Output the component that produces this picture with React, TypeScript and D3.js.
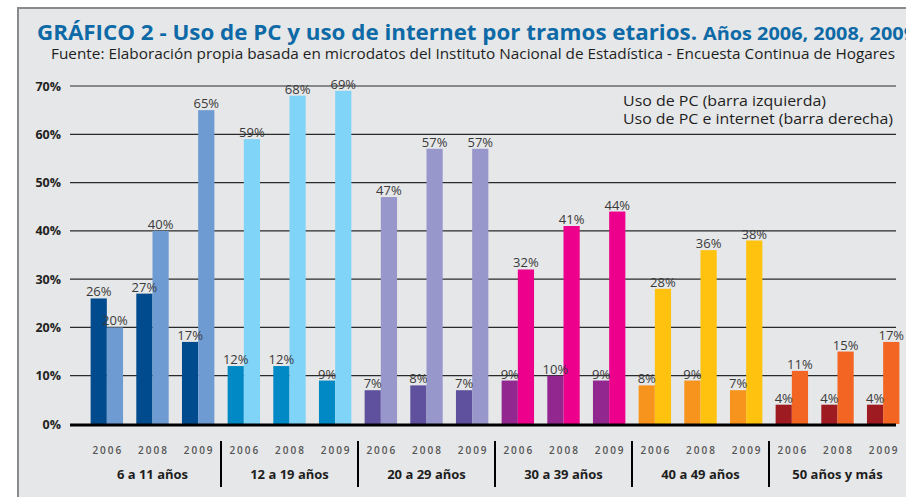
import React from 'react';
import * as d3 from 'd3';

const categories = ['6 a 11 años', '12 a 19 años', '20 a 29 años', '30 a 39 años', '40 a 49 años', '50 años y más'];
const years = ['2006', '2008', '2009'];
// Uso de PC (barra izquierda)
const usoPC = [
  [26, 27, 17],
  [12, 12, 9],
  [7, 8, 7],
  [9, 10, 9],
  [8, 9, 7],
  [4, 4, 4],
];
// Uso de PC e internet (barra derecha)
const usoPCInternet = [
  [20, 40, 65],
  [59, 68, 69],
  [47, 57, 57],
  [32, 41, 44],
  [28, 36, 38],
  [11, 15, 17],
];
const yTicks = [0, 10, 20, 30, 40, 50, 60, 70];
const darkColors = ['#004b8d', '#0089c4', '#5f519e', '#92278f', '#f7941d', '#9d1b21'];
const lightColors = ['#6f9bd3', '#7fd4f7', '#9897cb', '#ec008c', '#ffc20e', '#f26522'];
const title = 'GRÁFICO 2 - Uso de PC y uso de internet por tramos etarios.';
const titleYears = 'Años 2006, 2008, 2009';
const subtitle = 'Fuente: Elaboración propia basada en microdatos del Instituto Nacional de Estadística - Encuesta Continua de Hogares';
const legendLines = ['Uso de PC (barra izquierda)', 'Uso de PC e internet (barra derecha)'];

const W = 906;
const H = 497;
const FONT = "'Open Sans', 'DejaVu Sans', sans-serif";

export default function App() {
  const rows = categories.flatMap((c, gi) =>
    years.map((yr, yi) => ({ key: `${gi}-${yi}`, gi, yi, year: yr, pc: usoPC[gi][yi], net: usoPCInternet[gi][yi] }))
  );
  const x = d3.scaleBand<string>().domain(rows.map((r) => r.key)).range([84, 906]).padding(0);
  const step = x.step();
  const pairW = 32.4;
  const inner = d3.scaleBand<string>().domain(['pc', 'net']).range([0, pairW]).padding(0);
  const y = d3.scaleLinear().domain([0, 70]).range([424, 86]);
  const plotLeft = 70;
  const plotRight = 896;

  return (
    <svg width={W} height={H} style={{ position: 'absolute', left: 0, top: 0, fontFamily: FONT }}>
      <rect x={0} y={0} width={W} height={H} fill="#ffffff" />
      <rect x={18} y={8} width={W + 20} height={H + 20} fill="#e6e7e8" stroke="#8a8a8a" strokeWidth={2} />

      <text x={37} y={40} fontSize={21} fontWeight={700} fill="#0d6aa6" textLength={660} lengthAdjust="spacingAndGlyphs">
        {title}
      </text>
      <text x={703} y={40} fontSize={17.5} fontWeight={700} fill="#0d6aa6" textLength={212} lengthAdjust="spacingAndGlyphs">
        {titleYears}
      </text>
      <text x={51} y={59} fontSize={14} fill="#1e1e1e" textLength={844} lengthAdjust="spacingAndGlyphs">
        {subtitle}
      </text>

      {/* gridlines */}
      {yTicks.filter((t) => t > 0).map((t) => (
        <line key={t} x1={plotLeft} x2={plotRight} y1={y(t)} y2={y(t)} stroke="#2a2a2a" strokeWidth={1.2} />
      ))}
      {yTicks.map((t) => (
        <text key={'l' + t} x={61} y={y(t) + 4.5} fontSize={12.5} fontWeight={700} fill="#222" textAnchor="end">
          {t}%
        </text>
      ))}

      {/* legend */}
      {legendLines.map((l, i) => (
        <text key={l} x={623} y={106 + i * 17.5} fontSize={14} fill="#1e1e1e" textLength={i === 0 ? 203 : 270} lengthAdjust="spacingAndGlyphs">
          {l}
        </text>
      ))}

      {/* bars */}
      {rows.map((r) => {
        const cx = (x(r.key) as number) + step / 2;
        const x0 = cx - pairW / 2;
        return (
          <g key={r.key}>
            <rect x={x0 + (inner('pc') as number)} y={y(r.pc)} width={inner.bandwidth()} height={y(0) - y(r.pc)} fill={darkColors[r.gi]} />
            <rect x={x0 + (inner('net') as number)} y={y(r.net)} width={inner.bandwidth()} height={y(0) - y(r.net)} fill={lightColors[r.gi]} />
            <text x={x0 + (inner('pc') as number) + inner.bandwidth() / 2} y={y(r.pc) - 2} fontSize={13} fill="#3a3a3a" textAnchor="middle">
              {r.pc}%
            </text>
            <text x={x0 + (inner('net') as number) + inner.bandwidth() / 2} y={y(r.net) - 2} fontSize={13} fill="#3a3a3a" textAnchor="middle">
              {r.net}%
            </text>
            <text x={cx + 1} y={454} fontSize={10} fontWeight={600} fill="#555" letterSpacing={2} textAnchor="middle">
              {r.year}
            </text>
          </g>
        );
      })}

      {/* axis baseline */}
      <line x1={plotLeft} x2={plotRight} y1={y(0) + 1} y2={y(0) + 1} stroke="#000" strokeWidth={3} />

      {/* group labels and separators */}
      {categories.map((c, gi) => {
        const first = x(`${gi}-0`) as number;
        const center = first + step * 1.5;
        return (
          <g key={c}>
            <text x={center} y={478.5} fontSize={13} fontWeight={700} fill="#1e1e1e" textAnchor="middle">
              {c}
            </text>
            {gi > 0 && <line x1={first} x2={first} y1={441} y2={487} stroke="#000" strokeWidth={2} />}
          </g>
        );
      })}
    </svg>
  );
}
